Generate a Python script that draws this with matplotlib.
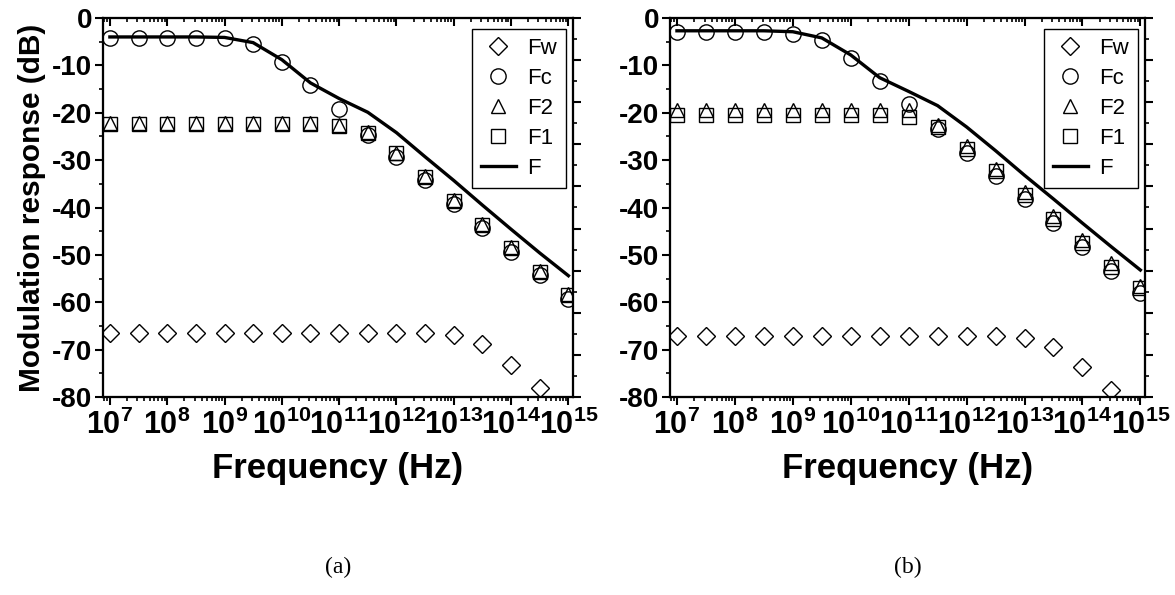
import matplotlib
matplotlib.use("Agg")
import matplotlib.pyplot as plt
import numpy as np
from matplotlib.ticker import MultipleLocator, LogLocator, FixedLocator, FixedFormatter, NullFormatter
from matplotlib import font_manager as fm

names = {f.name for f in fm.fontManager.ttflist}
NARROW = 'Liberation Sans Narrow' if 'Liberation Sans Narrow' in names else 'Liberation Sans'

plt.rcParams['font.family'] = ['Liberation Sans', 'DejaVu Sans']
plt.rcParams['mathtext.fontset'] = 'custom'
plt.rcParams['mathtext.rm'] = NARROW + ':bold'
plt.rcParams['mathtext.bf'] = NARROW + ':bold'

# ---------------- data ----------------
freq = [1e7, 3.16e7, 1e8, 3.16e8, 1e9, 3.16e9, 1e10, 3.16e10, 1e11,
        3.16e11, 1e12, 3.16e12, 1e13, 3.16e13, 1e14, 3.16e14, 1e15]

# panel (a)
a_Fw = [-66.4, -66.4, -66.4, -66.4, -66.4, -66.4, -66.4, -66.4, -66.4,
        -66.4, -66.4, -66.4, -66.9, -68.9, -73.3, -78.2, -84.0]
a_Fc = [-4.2, -4.2, -4.2, -4.2, -4.3, -5.5, -9.3, -14.2, -19.3,
        -24.7, -29.3, -34.3, -39.3, -44.3, -49.3, -54.3, -59.3]
a_F2 = [-22.2, -22.2, -22.2, -22.2, -22.2, -22.2, -22.2, -22.2, -22.5,
        -24.0, -28.4, -33.4, -38.4, -43.4, -48.4, -53.4, -58.3]
a_F1 = [-22.4, -22.4, -22.4, -22.4, -22.4, -22.4, -22.4, -22.4, -22.7,
        -24.2, -28.6, -33.6, -38.6, -43.6, -48.6, -53.6, -58.5]
a_F = [-4.0, -4.0, -4.0, -4.0, -4.1, -5.2, -8.8, -13.7, -17.0,
       -19.9, -24.2, -29.3, -34.3, -39.5, -44.6, -49.6, -54.4]

# panel (b)
b_Fw = [-67.2, -67.2, -67.2, -67.2, -67.2, -67.2, -67.2, -67.2, -67.2,
        -67.2, -67.2, -67.2, -67.6, -69.5, -73.7, -78.6, -84.0]
b_Fc = [-3.0, -3.0, -3.0, -3.0, -3.3, -4.7, -8.4, -13.3, -18.2,
        -23.5, -28.5, -33.3, -38.3, -43.3, -48.3, -53.3, -58.0]
b_F2 = [-19.5, -19.5, -19.5, -19.5, -19.5, -19.5, -19.5, -19.5, -19.5,
        -22.6, -27.0, -31.8, -36.7, -41.8, -46.8, -51.8, -56.5]
b_F1 = [-20.5, -20.5, -20.5, -20.5, -20.5, -20.5, -20.5, -20.5, -21.0,
        -23.0, -27.6, -32.4, -37.4, -42.5, -47.5, -52.5, -57.0]
b_F = [-2.7, -2.7, -2.7, -2.7, -2.9, -4.2, -7.8, -12.6, -15.5,
       -18.5, -23.0, -28.0, -33.2, -38.2, -43.3, -48.3, -53.2]

labels = ['Fw', 'Fc', 'F2', 'F1', 'F']
xtick_exp = [7, 8, 9, 10, 11, 12, 13, 14, 15]
yticks = [0, -10, -20, -30, -40, -50, -60, -70, -80]
panel_tags = ['(a)', '(b)']

# ---------------- figure ----------------
W, H = 1175, 595
fig = plt.figure(figsize=(W / 100, H / 100), dpi=100)

def box(x0, x1, y0, y1):
    return [x0 / W, 1 - y1 / H, (x1 - x0) / W, (y1 - y0) / H]

axes_pos = [box(103, 573, 18, 397), box(670, 1145, 18, 397)]
panels = [(a_Fw, a_Fc, a_F2, a_F1, a_F), (b_Fw, b_Fc, b_F2, b_F1, b_F)]

mk = dict(linestyle='none', markerfacecolor='none', markeredgecolor='black',
          markeredgewidth=1.0)

for i, (pos, data) in enumerate(zip(axes_pos, panels)):
    Fw, Fc, F2, F1, F = data
    ax = fig.add_axes(pos)
    ax.plot(freq, Fw, marker='D', markersize=9, label=labels[0], **mk)
    ax.plot(freq, Fc, marker='o', markersize=11, label=labels[1], **mk)
    ax.plot(freq, F2, marker='^', markersize=10, label=labels[2], **mk)
    ax.plot(freq, F1, marker='s', markersize=9.5, label=labels[3], **mk)
    ax.plot(freq, F, color='black', linewidth=2.4, label=labels[4])
    ax.set_xscale('log')
    ax.set_xlim(10 ** 6.88, 10 ** 15.08)
    ax.set_ylim(-80, 0)

    for s in ax.spines.values():
        s.set_linewidth(1.5)

    ax.xaxis.set_major_locator(FixedLocator([10.0 ** e for e in xtick_exp]))
    ax.xaxis.set_major_formatter(FixedFormatter(
        [r'$\mathregular{10^{%d}}$' % e for e in xtick_exp]))
    ax.xaxis.set_minor_locator(LogLocator(base=10, subs=np.arange(2, 10), numticks=50))
    ax.xaxis.set_minor_formatter(NullFormatter())
    ax.yaxis.set_major_locator(FixedLocator(yticks))
    ax.yaxis.set_major_formatter(FixedFormatter([str(v) for v in yticks]))
    ax.yaxis.set_minor_locator(MultipleLocator(5))
    ax.tick_params(axis='both', which='major', direction='out', length=6, width=1.5)
    ax.tick_params(axis='both', which='minor', direction='out', length=3, width=1.2)
    ax.tick_params(axis='x', which='major', labelsize=22, pad=3)
    ax.tick_params(axis='y', which='major', labelsize=20, pad=2)
    for t in ax.get_yticklabels():
        t.set_fontweight('bold')
        t.set_family(NARROW)
    for t in ax.get_xticklabels():
        t.set_fontweight('bold')
        t.set_family(NARROW)

    ax.set_xlabel('Frequency (Hz)', fontsize=25, fontweight='bold', labelpad=8)
    if i == 0:
        ax.set_ylabel('Modulation response (dB)', fontsize=21.5, fontweight='bold', labelpad=4)

    # top ticks (inward)
    axt = ax.twiny()
    axt.set_xscale('log')
    axt.set_xlim(ax.get_xlim())
    axt.xaxis.set_major_locator(FixedLocator([10.0 ** e for e in xtick_exp]))
    axt.xaxis.set_minor_locator(LogLocator(base=10, subs=np.arange(2, 10), numticks=50))
    axt.xaxis.set_major_formatter(NullFormatter())
    axt.xaxis.set_minor_formatter(NullFormatter())
    axt.tick_params(axis='x', which='major', direction='in', length=6, width=1.5)
    axt.tick_params(axis='x', which='minor', direction='in', length=3, width=1.2)
    # right ticks (outward, separate scale)
    axr = ax.twinx()
    axr.set_ylim(-90, 0)
    axr.yaxis.set_major_locator(MultipleLocator(10))
    axr.yaxis.set_minor_locator(MultipleLocator(5))
    axr.yaxis.set_major_formatter(NullFormatter())
    axr.tick_params(axis='y', which='major', direction='out', length=6, width=1.5)
    axr.tick_params(axis='y', which='minor', direction='out', length=3, width=1.2)
    for a2 in (axt, axr):
        for s in a2.spines.values():
            s.set_linewidth(1.5)

    leg = ax.legend(loc='upper right', bbox_to_anchor=(0.985, 0.97), frameon=True,
                    fancybox=False, edgecolor='black', framealpha=1,
                    prop={'family': NARROW, 'size': 16}, handlelength=1.6,
                    handletextpad=0.5, labelspacing=0.4, borderpad=0.4,
                    borderaxespad=0.0)
    leg.get_frame().set_linewidth(1.0)
    leg.set_zorder(10)

    cx = (pos[0] + pos[2] / 2)
    fig.text(cx, 1 - 567 / H, panel_tags[i], ha='center', va='center',
             fontsize=17, family='Liberation Serif')

fig.savefig('out.png', dpi=100)
